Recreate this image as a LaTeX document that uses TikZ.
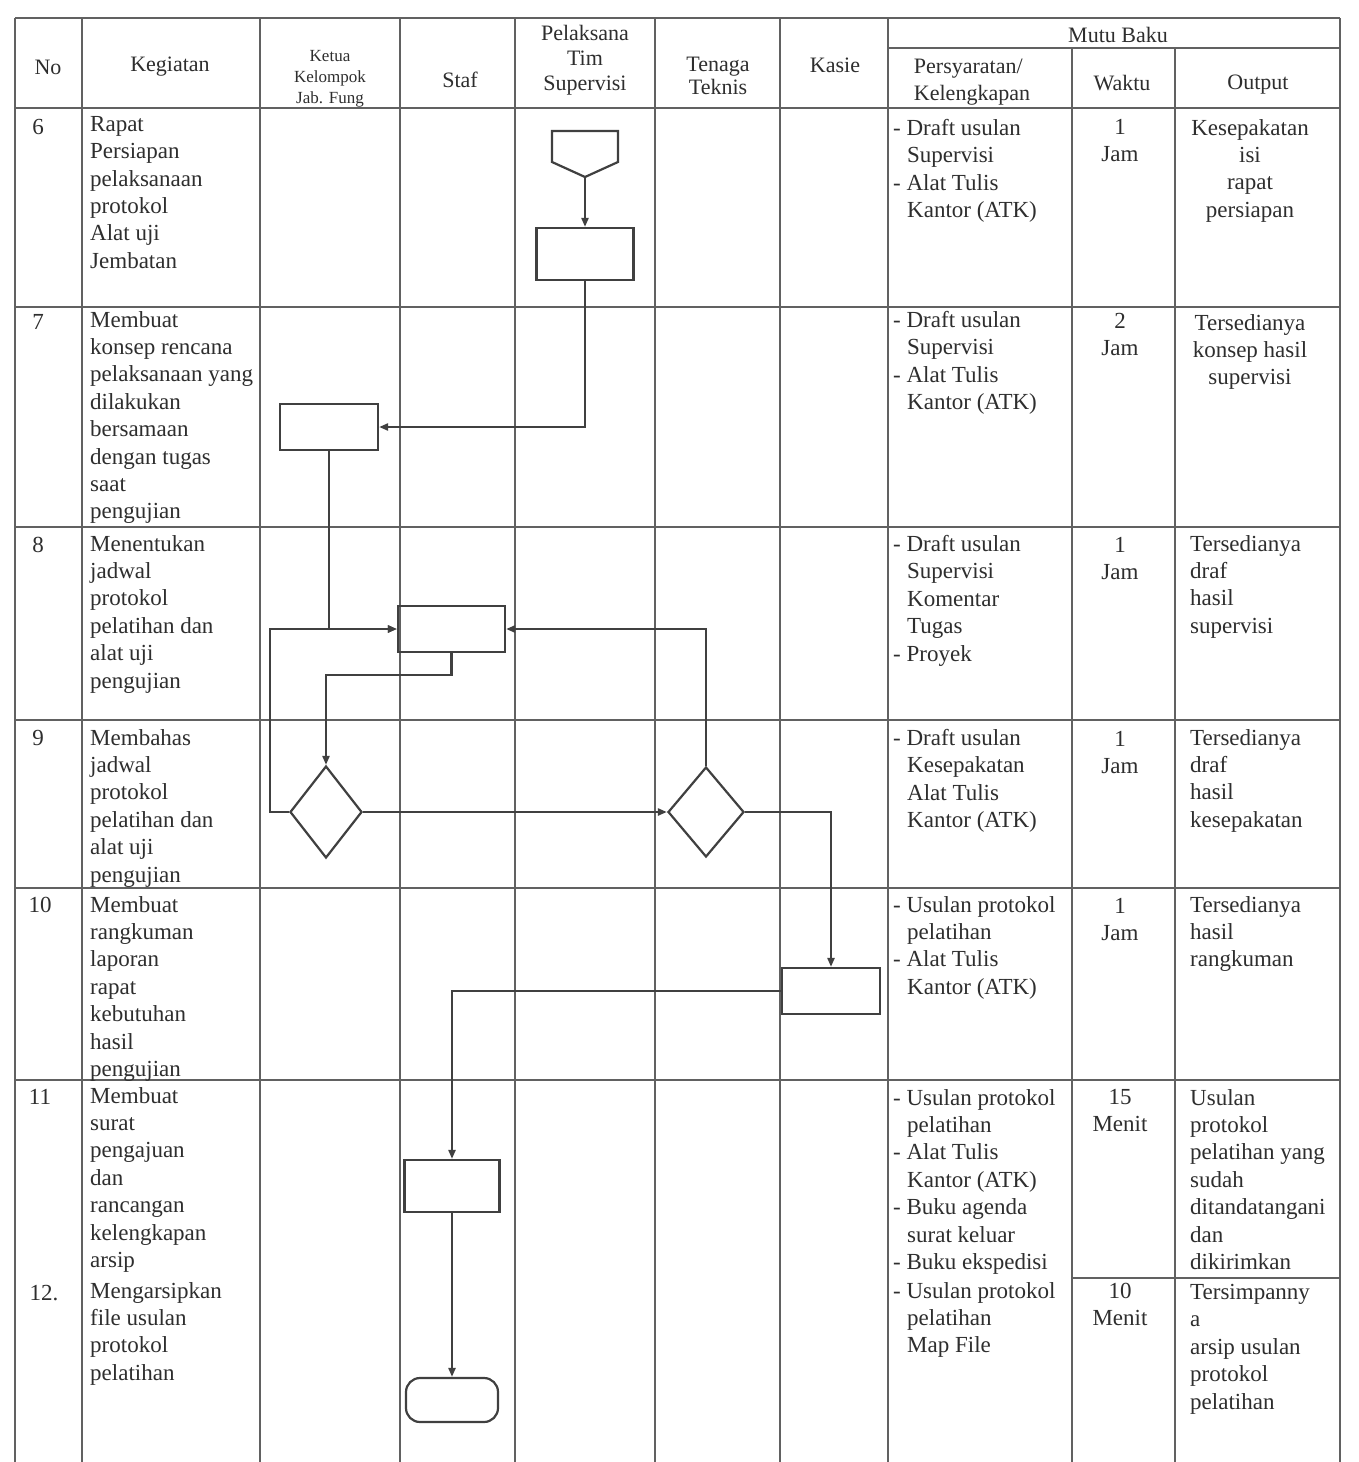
\documentclass[tikz,border=0pt]{standalone}
\usepackage{fontspec}
\setmainfont{Liberation Serif}
\usetikzlibrary{arrows.meta,shapes.geometric}
\begin{document}
\begin{tikzpicture}[x=1pt,y=-1pt,
  tbl/.style={line width=2pt, draw=black!62},
  flow/.style={line width=2.2pt, draw=black!75},
  arr/.style={flow, -{Triangle[length=9pt,width=7pt]}},
  procbox/.style={flow, draw, rectangle, inner sep=0pt},
  decbox/.style={flow, draw, diamond, inner sep=0pt},
  endbox/.style={flow, draw, rectangle, rounded corners=14pt, inner sep=0pt},
  txt/.style={font=\fontsize{23}{27.4}\selectfont, text=black!82, inner sep=0pt, align=left, anchor=north west},
  txtc/.style={font=\fontsize{23}{27.4}\selectfont, text=black!82, inner sep=0pt, align=center, anchor=north},
  hdr/.style={font=\fontsize{22}{25}\selectfont, text=black!82, inner sep=0pt, align=center}
]
\useasboundingbox[fill=white] (0,0) rectangle (1359,1462);

% ---------------- table ----------------
\draw[tbl] (15,18) -- (1340,18);
\draw[tbl] (888,48) -- (1340,48);
\draw[tbl] (15,108) -- (1340,108);
\foreach \yy in {307,527,720,888,1080} {\draw[tbl] (15,\yy) -- (1340,\yy);}
\draw[tbl] (1072,1278) -- (1340,1278);
\foreach \xx in {15,82,260,400,515,655,780,888,1340} {\draw[tbl] (\xx,18) -- (\xx,1462);}
\foreach \xx in {1072,1175} {\draw[tbl] (\xx,48) -- (\xx,1462);}

% ---------------- header ----------------
\node[hdr] (hNo) at (48,67) {No};
\node[hdr] (hKeg) at (170,67) {Kegiatan};
\node[hdr, font=\fontsize{17}{21}\selectfont] (hKet) at (330,79) {Ketua\\Kelompok\\Jab. Fung};
\node[hdr] (hStaf) at (460,80) {Staf};
\node[hdr] (hPel) at (585,60) {Pelaksana\\Tim\\Supervisi};
\node[hdr, font=\fontsize{22}{23}\selectfont] (hTen) at (718,76) {Tenaga\\Teknis};
\node[hdr] (hKas) at (835,65) {Kasie};
\node[hdr] (hMutu) at (1118,35) {Mutu Baku};
\node[hdr, align=left, font=\fontsize{22}{27}\selectfont] (hPers) at (972,82) {Persyaratan/\\Kelengkapan};
\node[hdr] (hWkt) at (1122,83) {Waktu};
\node[hdr] (hOut) at (1258,85) {Output};

% ---------------- row numbers ----------------
\node[hdr, font=\fontsize{23}{27}\selectfont] (n6) at (38,127) {6};
\node[hdr, font=\fontsize{23}{27}\selectfont] (n7) at (38,322) {7};
\node[hdr, font=\fontsize{23}{27}\selectfont] (n8) at (38,545) {8};
\node[hdr, font=\fontsize{23}{27}\selectfont] (n9) at (38,738) {9};
\node[hdr, font=\fontsize{23}{27}\selectfont] (n10) at (40,905) {10};
\node[hdr, font=\fontsize{23}{27}\selectfont] (n11) at (40,1097) {11};
\node[hdr, font=\fontsize{23}{27}\selectfont] (n12) at (44,1293) {12.};

% ---------------- activities ----------------
\node[txt] (a6) at (90,116) {Rapat\\Persiapan\\pelaksanaan\\protokol\\Alat uji\\Jembatan};
\node[txt] (a7) at (90,311) {Membuat\\konsep rencana\\pelaksanaan yang\\dilakukan\\bersamaan\\dengan tugas\\saat\\pengujian};
\node[txt] (a8) at (90,535) {Menentukan\\jadwal\\protokol\\pelatihan dan\\alat uji\\pengujian};
\node[txt] (a9) at (90,729) {Membahas\\jadwal\\protokol\\pelatihan dan\\alat uji\\pengujian};
\node[txt] (a10) at (90,896) {Membuat\\rangkuman\\laporan\\rapat\\kebutuhan\\hasil\\pengujian};
\node[txt] (a11) at (90,1087) {Membuat\\surat\\pengajuan\\dan\\rancangan\\kelengkapan\\arsip};
\node[txt] (a12) at (90,1282) {Mengarsipkan\\file usulan\\protokol\\pelatihan};

% ---------------- persyaratan / kelengkapan ----------------
\node[txt] (k6) at (893,119) {- Draft usulan\\\hspace*{14pt}Supervisi\\- Alat Tulis\\\hspace*{14pt}Kantor (ATK)};
\node[txt] (k7) at (893,311) {- Draft usulan\\\hspace*{14pt}Supervisi\\- Alat Tulis\\\hspace*{14pt}Kantor (ATK)};
\node[txt] (k8) at (893,535) {- Draft usulan\\\hspace*{14pt}Supervisi\\\hspace*{14pt}Komentar\\\hspace*{14pt}Tugas\\- Proyek};
\node[txt] (k9) at (893,729) {- Draft usulan\\\hspace*{14pt}Kesepakatan\\\hspace*{14pt}Alat Tulis\\\hspace*{14pt}Kantor (ATK)};
\node[txt] (k10) at (893,896) {- Usulan protokol\\\hspace*{14pt}pelatihan\\- Alat Tulis\\\hspace*{14pt}Kantor (ATK)};
\node[txt] (k11) at (893,1089) {- Usulan protokol\\\hspace*{14pt}pelatihan\\- Alat Tulis\\\hspace*{14pt}Kantor (ATK)\\- Buku agenda\\\hspace*{14pt}surat keluar\\- Buku ekspedisi};
\node[txt] (k12) at (893,1282) {- Usulan protokol\\\hspace*{14pt}pelatihan\\\hspace*{14pt}Map File};

% ---------------- waktu ----------------
\node[txtc] (w6) at (1120,119) {1\\Jam};
\node[txtc] (w7) at (1120,313) {2\\Jam};
\node[txtc] (w8) at (1120,537) {1\\Jam};
\node[txtc] (w9) at (1120,731) {1\\Jam};
\node[txtc] (w10) at (1120,898) {1\\Jam};
\node[txtc] (w11) at (1120,1089) {15\\Menit};
\node[txtc] (w12) at (1120,1283) {10\\Menit};

% ---------------- output ----------------
\node[txtc] (o6) at (1250,119) {Kesepakatan\\isi\\rapat\\persiapan};
\node[txtc] (o7) at (1250,314) {Tersedianya\\konsep hasil\\supervisi};
\node[txt] (o8) at (1190,535) {Tersedianya\\draf\\hasil\\supervisi};
\node[txt] (o9) at (1190,729) {Tersedianya\\draf\\hasil\\kesepakatan};
\node[txt] (o10) at (1190,896) {Tersedianya\\hasil\\rangkuman};
\node[txt] (o11) at (1190,1089) {Usulan\\protokol\\pelatihan yang\\sudah\\ditandatangani\\dan\\dikirimkan};
\node[txt] (o12) at (1190,1284) {Tersimpanny\\a\\arsip usulan\\protokol\\pelatihan};

% ---------------- flowchart symbols ----------------
\node[minimum width=66pt, minimum height=46pt, inner sep=0pt] (A) at (585,154) {};
\draw[flow] (552,131) -- (618,131) -- (618,162) -- (585,177) -- (552,162) -- cycle;
\node[procbox, minimum width=97pt, minimum height=52pt] (B) at (585,254) {};
\node[procbox, minimum width=98pt, minimum height=46pt] (C) at (329,427) {};
\node[procbox, minimum width=107pt, minimum height=46pt] (E) at (451.5,629) {};
\node[decbox, minimum width=72pt, minimum height=92pt] (D1) at (326,812) {};
\node[decbox, minimum width=76pt, minimum height=90pt] (D2) at (706,812) {};
\node[procbox, minimum width=98pt, minimum height=46pt] (F) at (831,991) {};
\node[procbox, minimum width=95pt, minimum height=52pt] (G) at (452,1186) {};
\node[endbox, minimum width=92pt, minimum height=44pt] (H) at (452,1400) {};
\coordinate (lp) at (270,720);

% ---------------- connectors ----------------
\draw[arr] (A.south) -- (B.north);
\draw[arr] (B.south) |- (C.east);
\draw[arr] (C.south) |- (E.west);
\draw[arr] (D1.west) -| (lp) |- (E.west);
\draw[arr] (E.south) -- ++(0,22) -| (D1.north);
\draw[arr] (D1.east) -- (D2.west);
\draw[arr] (D2.north) |- (E.east);
\draw[arr] (D2.east) -| (F.north);
\draw[arr] (F.west) -| (G.north);
\draw[arr] (G.south) -- (H.north);
\end{tikzpicture}
\end{document}
